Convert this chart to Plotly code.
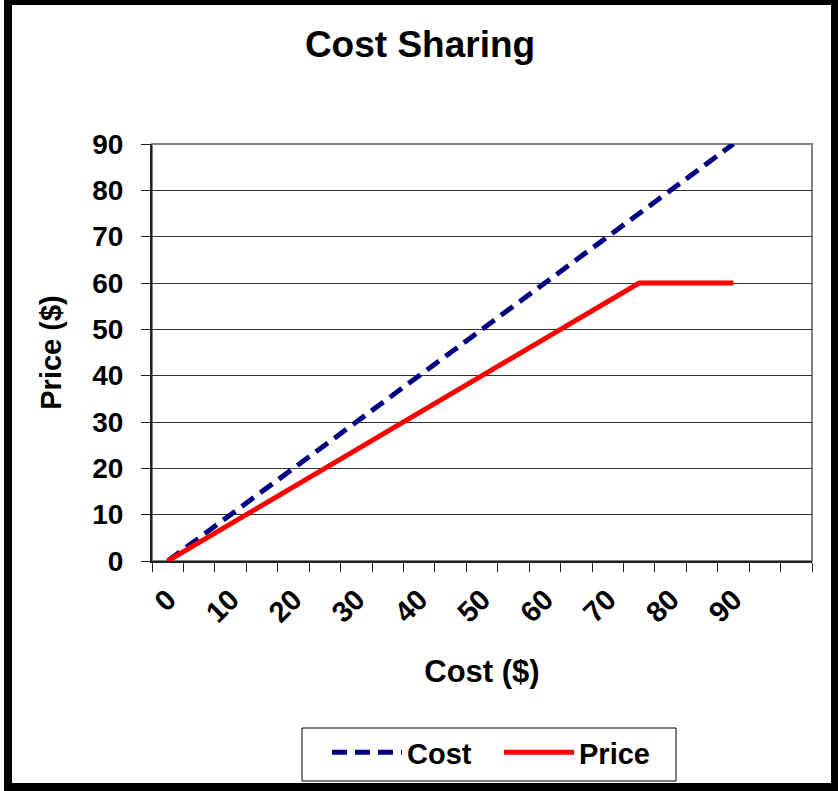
import plotly.graph_objects as go

# Data
cost_x = [0, 5, 10, 15, 20, 25, 30, 35, 40, 45, 50, 55, 60, 65, 70, 75, 80, 85, 90]
cost_y = [0, 5, 10, 15, 20, 25, 30, 35, 40, 45, 50, 55, 60, 65, 70, 75, 80, 85, 90]
price_y = [0, 4, 8, 12, 16, 20, 24, 28, 32, 36, 40, 44, 48, 52, 56, 60, 60, 60, 60]
x_tick_vals = [0, 10, 20, 30, 40, 50, 60, 70, 80, 90]
x_tick_text = ["0", "10", "20", "30", "40", "50", "60", "70", "80", "90"]

W, H = 838, 791
L, R, T, B = 152, 812, 144, 561
FONT = "Liberation Sans, Arial, sans-serif"


def px(x):
    return (x - L) / (R - L)


def py(y):
    return (B - y) / (B - T)


fig = go.Figure()
fig.add_trace(go.Scatter(
    x=cost_x, y=cost_y, name="Cost", mode="lines",
    line=dict(color="#000080", width=5, dash="15px,8px"),
))
fig.add_trace(go.Scatter(
    x=cost_x, y=price_y, name="Price", mode="lines",
    line=dict(color="#FF0000", width=5),
))

shapes = []
# plot area border (gray)
shapes.append(dict(type="rect", xref="paper", yref="paper", x0=0, x1=1, y0=0, y1=1,
                   line=dict(color="#808080", width=2), layer="below"))
# legend box
shapes.append(dict(type="rect", xref="paper", yref="paper",
                   x0=px(302), x1=px(676), y0=py(781), y1=py(728),
                   line=dict(color="black", width=1)))
# outer frame
for (x0, x1, y0, y1) in [(4, 838, 0, 5), (4, 12, 0, 791), (831, 838, 0, 791), (4, 838, 783, 791)]:
    shapes.append(dict(type="rect", xref="paper", yref="paper",
                       x0=px(x0), x1=px(x1), y0=py(y1), y1=py(y0),
                       fillcolor="black", line=dict(width=0)))

fig.update_layout(
    width=W, height=H,
    margin=dict(l=L, r=W - R, t=T, b=H - B),
    paper_bgcolor="white", plot_bgcolor="white",
    font=dict(family=FONT, color="black", size=25),
    title=dict(text="<b>Cost Sharing</b>", x=px(420), xref="paper", xanchor="center",
               y=1 - 44 / H, yref="container", yanchor="middle",
               font=dict(size=37, family=FONT)),
    showlegend=True,
    legend=dict(orientation="h", x=px(327), y=py(727), xanchor="left", yanchor="top",
                borderwidth=0, bgcolor="rgba(0,0,0,0)",
                font=dict(size=29, family=FONT, weight="bold"),
                itemwidth=70,
                entrywidth=87, entrywidthmode="pixels"),
    shapes=shapes,
)
fig.update_xaxes(
    range=[-2.5, 102.5], tickvals=x_tick_vals, ticktext=x_tick_text,
    tickangle=-45, ticks="", showgrid=False, zeroline=False,
    showline=True, linecolor="#222", linewidth=2,
    tickfont=dict(size=29, family=FONT, weight="bold"),
    ticklabelstandoff=8,
    minor=dict(ticks="outside", tick0=-2.5, dtick=5, ticklen=9, tickcolor="#222",
               tickwidth=1, showgrid=False),
    title=dict(text="<b>Cost ($)</b>", font=dict(size=31, family=FONT), standoff=33),
)
fig.update_yaxes(
    range=[0, 90], dtick=10, tick0=0,
    ticks="outside", ticklen=9, tickcolor="#222", tickwidth=1,
    showgrid=True, gridcolor="#333", gridwidth=1, zeroline=False,
    showline=True, linecolor="#222", linewidth=2,
    tickfont=dict(size=28, family=FONT, weight="bold"),
    ticklabelstandoff=12,
    title=dict(text="<b>Price ($)</b>", font=dict(size=29, family=FONT), standoff=22),
)

fig.write_html("out.html", config={"displayModeBar": False},
               post_script="document.body.style.margin='0';document.body.style.overflow='hidden';")
